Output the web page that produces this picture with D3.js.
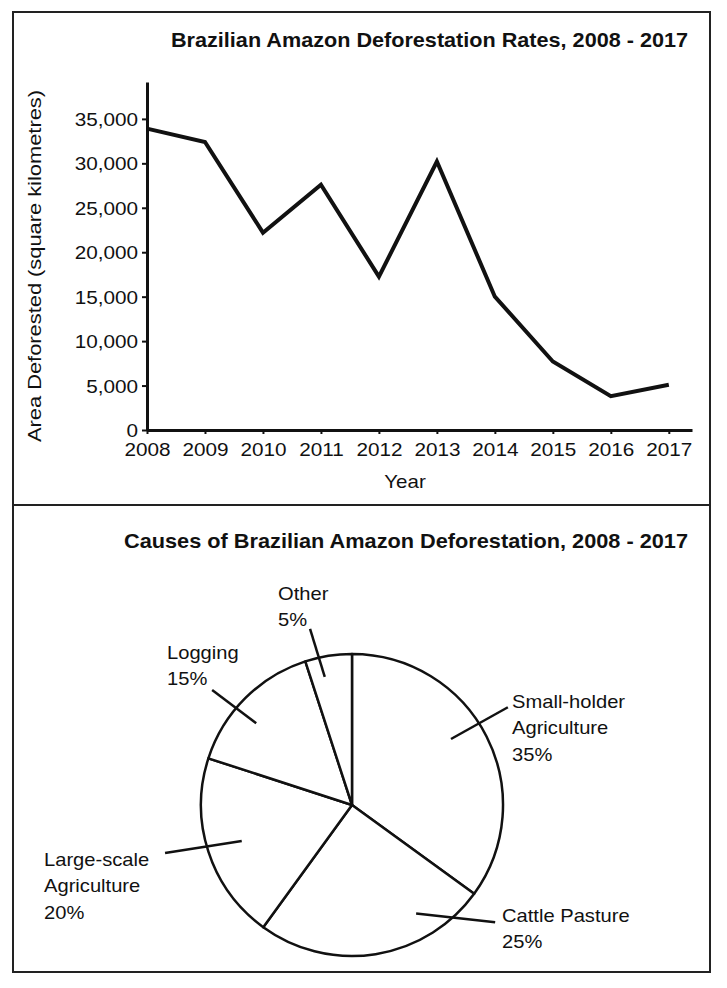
<!DOCTYPE html>
<html>
<head>
<meta charset="utf-8">
<script src="https://cdn.jsdelivr.net/npm/d3@7"></script>
<style>
  html, body { margin: 0; padding: 0; background: #fff; }
  svg { display: block; }
  text { font-family: "Liberation Sans", Arial, sans-serif; fill: #111; }
</style>
</head>
<body>
<svg id="chart" width="727" height="988"></svg>
<script>
// ---------- DATA ----------
const years = [2008, 2009, 2010, 2011, 2012, 2013, 2014, 2015, 2016, 2017];
const areaDeforested = [33900, 32400, 22200, 27600, 17250, 30200, 15000, 7700, 3800, 5100];
const yTickValues = [0, 5000, 10000, 15000, 20000, 25000, 30000, 35000];

const causes = ["Small-holder Agriculture", "Cattle Pasture", "Large-scale Agriculture", "Logging", "Other"];
const causeLabelLines = [["Small-holder", "Agriculture"], ["Cattle Pasture"], ["Large-scale", "Agriculture"], ["Logging"], ["Other"]];
const causeShares = [35, 25, 20, 15, 5];

const lineTitle = "Brazilian Amazon Deforestation Rates, 2008 - 2017";
const pieTitle = "Causes of Brazilian Amazon Deforestation, 2008 - 2017";
const xAxisTitle = "Year";
const yAxisTitle = "Area Deforested (square kilometres)";

// ---------- LAYOUT ----------
const svg = d3.select("#chart");
const ink = "#111";
const STRETCH = 1.15;

function stretch(sel, k) {
  sel.each(function () {
    const len = this.getComputedTextLength();
    d3.select(this).attr("textLength", len * k).attr("lengthAdjust", "spacingAndGlyphs");
  });
}

// panel borders
svg.append("rect").attr("x", 13).attr("y", 12).attr("width", 697).attr("height", 493)
  .attr("fill", "none").attr("stroke", "#222").attr("stroke-width", 2);
svg.append("rect").attr("x", 13).attr("y", 505).attr("width", 697).attr("height", 467)
  .attr("fill", "none").attr("stroke", "#222").attr("stroke-width", 2);

// ---------- LINE CHART ----------
const x = d3.scaleLinear().domain([2008, 2017.4]).range([147, 692]);
const y = d3.scaleLinear().domain([0, 39150]).range([430, 82]);

svg.append("text").attr("x", 688).attr("y", 47).attr("text-anchor", "end")
  .style("font-size", "20.5px").style("font-weight", "bold").text(lineTitle)
  .attr("textLength", 517).attr("lengthAdjust", "spacingAndGlyphs");

const yAxisG = svg.append("g").attr("transform", "translate(147,0)")
  .call(d3.axisLeft(y).tickValues(yTickValues).tickFormat(d3.format(",")).tickSize(5).tickSizeOuter(0).tickPadding(4));
yAxisG.select(".domain").attr("stroke", ink).attr("stroke-width", 3);
yAxisG.selectAll(".tick line").attr("stroke", ink).attr("stroke-width", 2);
yAxisG.selectAll(".tick text").style("font-size", "18px").attr("fill", ink).attr("dy", "0.36em");
stretch(yAxisG.selectAll(".tick text"), STRETCH);

const xAxisG = svg.append("g").attr("transform", "translate(0,430)")
  .call(d3.axisBottom(x).tickValues(years).tickFormat(d3.format("d")).tickSize(4).tickSizeOuter(0).tickPadding(9));
xAxisG.select(".domain").attr("stroke", ink).attr("stroke-width", 3);
xAxisG.selectAll(".tick line").attr("stroke", ink).attr("stroke-width", 2);
xAxisG.selectAll(".tick text").style("font-size", "18px").attr("fill", ink);
stretch(xAxisG.selectAll(".tick text"), STRETCH);

svg.append("text").attr("x", 405).attr("y", 488).attr("text-anchor", "middle")
  .style("font-size", "19px").text(xAxisTitle).call(stretch, 1.08);

svg.append("text").attr("transform", "translate(41,266) rotate(-90)").attr("text-anchor", "middle")
  .style("font-size", "18.5px").text(yAxisTitle)
  .attr("textLength", 352).attr("lengthAdjust", "spacingAndGlyphs");

const line = d3.line().x((d, i) => x(years[i])).y(d => y(d));
svg.append("path").datum(areaDeforested).attr("d", line)
  .attr("fill", "none").attr("stroke", ink).attr("stroke-width", 4)
  .attr("stroke-linejoin", "miter").attr("stroke-linecap", "butt");

// ---------- PIE CHART ----------
svg.append("text").attr("x", 688).attr("y", 548).attr("text-anchor", "end")
  .style("font-size", "20.5px").style("font-weight", "bold").text(pieTitle)
  .attr("textLength", 564).attr("lengthAdjust", "spacingAndGlyphs");

const cx = 352, cy = 805, R = 151;
const pieData = causes.map((c, i) => ({ cause: c, share: causeShares[i], lines: causeLabelLines[i] }));
const pie = d3.pie().sort(null).value(d => d.share);
const arc = d3.arc().innerRadius(0).outerRadius(R);
const pg = svg.append("g").attr("transform", `translate(${cx},${cy})`);
pg.selectAll("path.slice").data(pie(pieData)).join("path").attr("class", "slice")
  .attr("d", arc).attr("fill", "#fff").attr("stroke", ink).attr("stroke-width", 2.5)
  .attr("stroke-linejoin", "round");

// label layout (annotation positions): leader ends in polar [deg, px], text anchor
const labelLayout = {
  "Small-holder Agriculture": { lead: [[56.3, 119], [57.9, 184]], tx: 512, ty: 708 },
  "Cattle Pasture": { lead: [[149.4, 126], [129.3, 185]], tx: 502, ty: 922 },
  "Large-scale Agriculture": { lead: [[251.9, 116], [255.6, 193]], tx: 44, ty: 866 },
  "Logging": { lead: [[310.5, 126], [309.4, 181]], tx: 167, ty: 659 },
  "Other": { lead: [[348, 131], [346.6, 181]], tx: 278, ty: 600 }
};
const polar = ([deg, r]) => {
  const a = deg * Math.PI / 180;
  return [r * Math.sin(a), -r * Math.cos(a)];
};
const lineH = 26.3;

pieData.forEach(d => {
  const L = labelLayout[d.cause];
  const p1 = polar(L.lead[0]), p2 = polar(L.lead[1]);
  pg.append("line").attr("x1", p1[0]).attr("y1", p1[1]).attr("x2", p2[0]).attr("y2", p2[1])
    .attr("stroke", ink).attr("stroke-width", 2.5);
  const t = svg.append("text").attr("x", L.tx).attr("y", L.ty).style("font-size", "19px");
  const allLines = d.lines.concat([d.share + "%"]);
  allLines.forEach((s, i) => {
    t.append("tspan").attr("x", L.tx).attr("y", L.ty + i * lineH).text(s);
  });
  t.selectAll("tspan").call(stretch, 1.06);
});
</script>
</body>
</html>
